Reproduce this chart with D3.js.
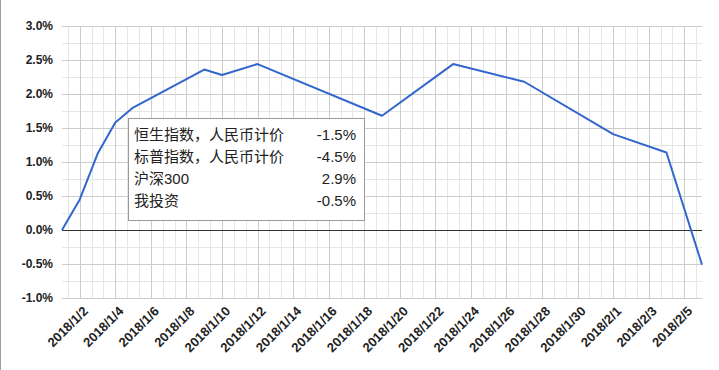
<!DOCTYPE html>
<html>
  <head>
    <meta charset="utf-8">
    <title>收益走势</title>
    <script src="https://d3js.org/d3.v7.min.js"></script>
    <style>
      body { margin: 0; background: #fff; }
      svg { display: block; }
    </style>
  </head>
  <body>
    <script>
      // 数据
      var dates = ["2018-01-01", "2018-01-02", "2018-01-03", "2018-01-04", "2018-01-05", "2018-01-09", "2018-01-10",
        "2018-01-12", "2018-01-19", "2018-01-23", "2018-01-27", "2018-02-01", "2018-02-04", "2018-02-06"];
      var values = [0, 0.45, 1.12, 1.58, 1.80, 2.36, 2.28, 2.44, 1.68, 2.44, 2.18, 1.41, 1.14, -0.51]; // %

      var xTickDates = ["2018-01-02", "2018-01-04", "2018-01-06", "2018-01-08", "2018-01-10", "2018-01-12", "2018-01-14",
        "2018-01-16", "2018-01-18", "2018-01-20", "2018-01-22", "2018-01-24", "2018-01-26", "2018-01-28",
        "2018-01-30", "2018-02-01", "2018-02-03", "2018-02-05"];
      var yTicks = [-1.0, -0.5, 0.0, 0.5, 1.0, 1.5, 2.0, 2.5, 3.0];

      var legendNames = ["恒生指数，人民币计价", "标普指数，人民币计价", "沪深300", "我投资"];
      var legendValues = ["-1.5%", "-4.5%", "2.9%", "-0.5%"];

      var width = 719;
      var height = 370;
      var margin = {top: 26, right: 17, bottom: 72, left: 62};

      var svg = d3.select("body").append("svg").attr("width", width).attr("height", height);

      var parse = d3.timeParse("%Y-%m-%d");
      var fmt = d3.timeFormat("%Y/%-m/%-d");
      var data = dates.map((d, i) => ({date: parse(d), value: values[i]}));
      var tickDates = xTickDates.map(parse);

      var xScale = d3.scaleTime()
        .domain([parse("2018-01-01"), parse("2018-02-06")])
        .range([margin.left, width - margin.right]);

      var yScale = d3.scaleLinear()
        .domain([-1.0, 3.0])
        .range([height - margin.bottom, margin.top]);

      // 左边框
      svg.append("line")
        .attr("x1", 0.5).attr("x2", 0.5).attr("y1", 0).attr("y2", height)
        .attr("stroke", "#9e9e9e");

      var grid = svg.append("g");
      var day = 24 * 3600 * 1000;

      // 细网格（横）
      grid.selectAll(".ym")
        .data(yTicks.slice(1).map(v => v - 0.25))
        .enter().append("line")
        .attr("x1", margin.left).attr("x2", width - margin.right)
        .attr("y1", d => Math.round(yScale(d)) + 0.5).attr("y2", d => Math.round(yScale(d)) + 0.5)
        .attr("stroke", "#e6e6e6");

      // 细网格（竖），每两天分三格
      var minor = d3.range(-1, 54).filter(k => k % 3 != 0)
        .map(k => new Date(tickDates[0].getTime() + k * day * 2 / 3))
        .filter(t => t > xScale.domain()[0] && t < xScale.domain()[1]);
      grid.selectAll(".xm")
        .data(minor)
        .enter().append("line")
        .attr("x1", d => Math.round(xScale(d)) + 0.5).attr("x2", d => Math.round(xScale(d)) + 0.5)
        .attr("y1", margin.top).attr("y2", height - margin.bottom)
        .attr("stroke", "#e6e6e6");

      // 主网格
      grid.selectAll(".yM")
        .data(yTicks)
        .enter().append("line")
        .attr("x1", margin.left).attr("x2", width - margin.right)
        .attr("y1", d => Math.round(yScale(d)) + 0.5).attr("y2", d => Math.round(yScale(d)) + 0.5)
        .attr("stroke", "#cccccc");

      grid.selectAll(".xM")
        .data(tickDates)
        .enter().append("line")
        .attr("x1", d => Math.round(xScale(d)) + 0.5).attr("x2", d => Math.round(xScale(d)) + 0.5)
        .attr("y1", margin.top).attr("y2", height - margin.bottom)
        .attr("stroke", "#cccccc");

      // 零线
      svg.append("line")
        .attr("x1", margin.left).attr("x2", width - margin.right)
        .attr("y1", Math.round(yScale(0)) + 0.5).attr("y2", Math.round(yScale(0)) + 0.5)
        .attr("stroke", "#333333");

      // y轴
      var axisy = d3.axisLeft(yScale)
        .tickValues(yTicks)
        .tickSize(0)
        .tickPadding(9)
        .tickFormat(d => d.toFixed(1) + "%");
      var gy = svg.append("g")
        .attr("transform", "translate(" + margin.left + ",0)")
        .call(axisy);
      gy.select(".domain").remove();
      gy.selectAll("text")
        .attr("fill", "#222")
        .style("font", "bold 12px 'Liberation Sans', Arial, sans-serif");

      // x轴
      var axisx = d3.axisBottom(xScale)
        .tickValues(tickDates)
        .tickSize(0)
        .tickFormat(fmt);
      var gx = svg.append("g")
        .attr("transform", "translate(0," + (height - margin.bottom) + ")")
        .call(axisx);
      gx.select(".domain").remove();
      gx.selectAll("text")
        .attr("fill", "#222")
        .attr("text-anchor", "end")
        .attr("dy", null)
        .attr("y", 0)
        .attr("transform", "translate(8.5,14) rotate(-45)")
        .style("font", "bold 13px 'Liberation Sans', Arial, sans-serif");

      // 折线
      var line = d3.line()
        .x(d => xScale(d.date))
        .y(d => yScale(d.value));

      svg.append("path")
        .datum(data)
        .attr("fill", "none")
        .attr("stroke", "#3366cc")
        .attr("stroke-width", 2)
        .attr("stroke-linejoin", "round")
        .attr("d", line);

      // 图例框
      var box = svg.append("g").attr("transform", "translate(128,118)");
      box.append("rect")
        .attr("x", 0.5).attr("y", 0.5)
        .attr("width", 236).attr("height", 102)
        .attr("fill", "#fff")
        .attr("stroke", "#9a9a9a");

      var rowY = d3.scalePoint().domain(d3.range(legendNames.length)).range([22, 88]);
      box.selectAll(".name")
        .data(legendNames)
        .enter().append("text")
        .attr("x", 6)
        .attr("y", (d, i) => rowY(i))
        .attr("fill", "#222")
        .style("font", "15px 'Liberation Sans', Arial, 'Noto Sans CJK SC', sans-serif")
        .text(d => d);
      box.selectAll(".val")
        .data(legendValues)
        .enter().append("text")
        .attr("x", 228)
        .attr("y", (d, i) => rowY(i))
        .attr("text-anchor", "end")
        .attr("fill", "#222")
        .style("font", "15px 'Liberation Sans', Arial, sans-serif")
        .text(d => d);
    </script>
  </body>
</html>
